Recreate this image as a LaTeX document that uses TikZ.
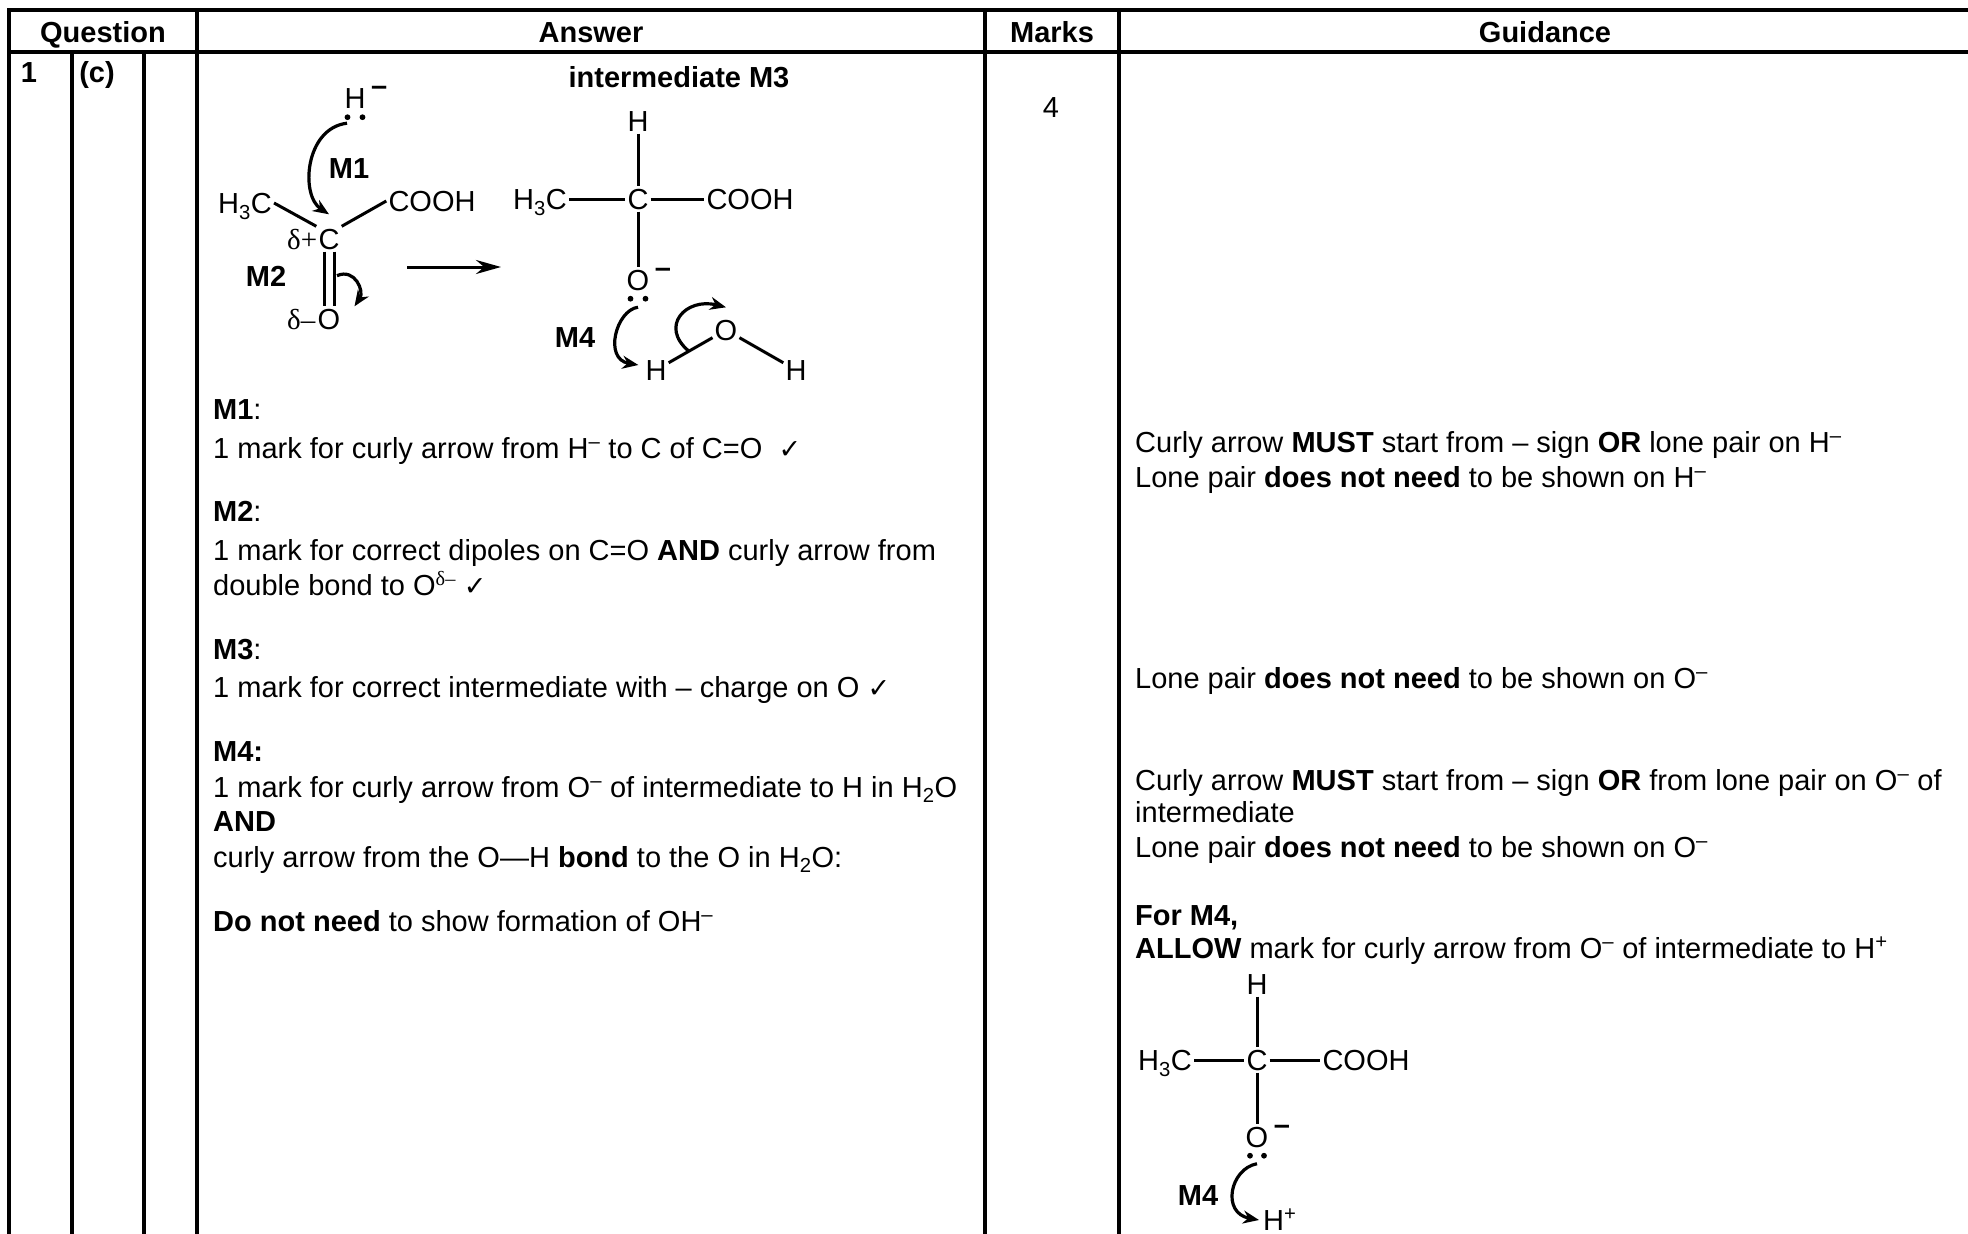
\documentclass[tikz,border=0pt]{standalone}
\usepackage{fontspec}
\setmainfont{Liberation Sans}
\newfontfamily\grkfont{Liberation Serif}
\newfontfamily\symfont{DejaVu Sans}
\usetikzlibrary{positioning,arrows.meta,calc}
\newcommand\cmark{{\symfont\fontsize{27}{30}\selectfont ✓}}

\begin{document}
\begin{tikzpicture}[x=1pt,y=-1pt,
   every node/.style={inner sep=0pt,font=\fontsize{29}{34}\selectfont},
   txt/.style={anchor=base west},
   head/.style={anchor=base,font=\fontsize{29}{34}\selectfont\bfseries},
   atom/.style={inner sep=2pt,text height=21pt,text depth=0pt},
   lbl/.style={font=\fontsize{29}{34}\selectfont\bfseries,text height=21pt,text depth=0pt},
   charge/.style={anchor=base,font=\fontsize{29}{34}\selectfont\bfseries},
   rule/.style={line width=3.2pt,line cap=rect},
   bond/.style={line width=3pt},
   curly/.style={line width=3.2pt,-{Stealth[length=16pt,width=13pt]}}]
\useasboundingbox (0,0) rectangle (1968,1234);
\draw[rule] (9,10) -- (1968,10) (9,52) -- (1968,52);
\foreach \x in {9,197,985,1119} \draw[rule] (\x,10) -- (\x,1236);
\foreach \x in {72,144} \draw[rule] (\x,52) -- (\x,1236);
\node[head] (qhead) at (103,42) {Question};
\node[head] (ahead) at (591,42) {Answer};
\node[head] (mhead) at (1052,42) {Marks};
\node[head] (ghead) at (1545,42) {Guidance};
\node[head] (qnum) at (29,82) {1};
\node[head] (qpart) at (97,82) {(c)};
\node[anchor=base] (marks) at (1051,117) {4};
\node[atom] (hyd) at (355,98) {H};
\node[charge] (hydq) at ([xshift=11.5pt,yshift=-10pt]hyd.north east) {–};
\fill ([xshift=-7.5pt,yshift=-6.5pt]hyd.south) circle (2.9pt) ([xshift=7.5pt,yshift=-6.5pt]hyd.south) circle (2.9pt);
\node[atom] (rc) at (329,239) {C};
\node[atom,left=-3pt of rc] (dplus) {\grkfont δ+};
\node[atom] (rh3c) at (245,203) {H\textsubscript{3}C};
\node[atom] (rcooh) at (432,201) {COOH};
\node[atom] (ro) at (329,319) {O};
\node[atom,left=-2pt of ro] (dminus) {\grkfont δ–};
\node[lbl] (m1) at (349,168) {M1};
\node[lbl] (m2) at (266,276) {M2};
\draw[bond] (rh3c.east) -- (rc.north west);
\draw[bond] (rc.north east) -- (rcooh.west);
\draw[bond] ([xshift=-5pt]rc.south) -- ([xshift=-5pt]ro.north);
\draw[bond] ([xshift=5pt]rc.south) -- ([xshift=5pt]ro.north);
\draw[curly] ([xshift=-8pt,yshift=-12.5pt]hyd.south) .. controls +(-42,5) and +(-29,-19) .. ([yshift=12pt]rc.north);
\draw[curly] ([xshift=8pt,yshift=-24pt]rc.south) .. controls +(18,-8) and +(10,-15) .. ([xshift=12pt]ro.north east);
\coordinate (rxa) at (407,267);
\coordinate (rxb) at (501,267);
\draw[line width=3pt,-{Stealth[length=25pt,width=14pt]}] (rxa) -- (rxb);
\node[anchor=base] (title) at (679,87) {\bfseries intermediate M3};
\node[atom] (ih) at (638,121) {H};
\node[atom] (ic) at (638,199) {C};
\node[atom] (ih3c) at (540,199) {H\textsubscript{3}C};
\node[atom] (icooh) at (750,199) {COOH};
\node[atom] (io) at (638,280) {O};
\node[charge] (ioq) at ([xshift=11.5pt,yshift=-10pt]io.north east) {–};
\fill ([xshift=-7.5pt,yshift=-6pt]io.south) circle (2.9pt) ([xshift=7.5pt,yshift=-6pt]io.south) circle (2.9pt);
\draw[bond] (ih) -- (ic) (ih3c) -- (ic) (ic) -- (icooh) (ic) -- (io);
\node[lbl] (m4) at (575,337) {M4};
\node[atom] (wh) at (656,370) {H};
\node[atom] (wo) at (726,330) {O};
\node[atom] (wh2) at (796,370) {H};
\draw[bond] (wh) -- (wo) -- (wh2);
\draw[curly] ([yshift=-14.5pt]io.south) .. controls +(-22,3) and +(-35,-6) .. ([xshift=-5pt,yshift=5pt]wh.west);
\draw[curly] ($(wh)!0.47!(wo)$) .. controls +(-30,-25) and +(-40,-10) .. ([yshift=10pt]wo.north);
\node[txt] (a1) at (213,419) {\textbf{M1}:};
\node[txt] (a2) at (213,458) {1 mark for curly arrow from H\textsuperscript{–} to C of C=O \ \cmark};
\node[txt] (a3) at (213,521) {\textbf{M2}:};
\node[txt] (a4) at (213,560) {1 mark for correct dipoles on C=O \textbf{AND} curly arrow from};
\node[txt] (a5) at (213,595) {double bond to O\textsuperscript{\grkfont δ–} \cmark};
\node[txt] (a6) at (213,659) {\textbf{M3}:};
\node[txt] (a7) at (213,697) {1 mark for correct intermediate with – charge on O \cmark};
\node[txt] (a8) at (213,761) {\textbf{M4:}};
\node[txt] (a9) at (213,797) {1 mark for curly arrow from O\textsuperscript{–} of intermediate to H in H\textsubscript{2}O};
\node[txt] (a10) at (213,831) {\textbf{AND}};
\node[txt] (a11) at (213,867) {curly arrow from the O—H \textbf{bond} to the O in H\textsubscript{2}O:};
\node[txt] (a12) at (213,931) {\textbf{Do not need} to show formation of OH\textsuperscript{–}};
\node[txt] (g1) at (1135,452) {Curly arrow \textbf{MUST} start from – sign \textbf{OR} lone pair on H\textsuperscript{–}};
\node[txt] (g2) at (1135,487) {Lone pair \textbf{does not need} to be shown on H\textsuperscript{–}};
\node[txt] (g3) at (1135,688) {Lone pair \textbf{does not need} to be shown on O\textsuperscript{–}};
\node[txt] (g4) at (1135,790) {Curly arrow \textbf{MUST} start from – sign \textbf{OR} from lone pair on O\textsuperscript{–} of};
\node[txt] (g5) at (1135,822) {intermediate};
\node[txt] (g6) at (1135,857) {Lone pair \textbf{does not need} to be shown on O\textsuperscript{–}};
\node[txt] (g7) at (1135,925) {\textbf{For M4,}};
\node[txt] (g8) at (1135,958) {\textbf{ALLOW} mark for curly arrow from O\textsuperscript{–} of intermediate to H\textsuperscript{+}};
\node[atom] (gh) at (1257,984) {H};
\node[atom] (gc) at (1257,1060) {C};
\node[atom] (gh3c) at (1165,1060) {H\textsubscript{3}C};
\node[atom] (gcooh) at (1366,1060) {COOH};
\node[atom] (go) at (1257,1137) {O};
\node[charge] (goq) at ([xshift=11.5pt,yshift=-10pt]go.north east) {–};
\fill ([xshift=-7pt,yshift=-6pt]go.south) circle (2.9pt) ([xshift=7pt,yshift=-6pt]go.south) circle (2.9pt);
\draw[bond] (gh) -- (gc) (gh3c) -- (gc) (gc) -- (gcooh) (gc) -- (go);
\node[lbl] (gm4) at (1198,1195) {M4};
\node[txt] (ghp) at (1263,1230) {H\textsuperscript{+}};
\draw[curly] ([yshift=-14pt]go.south) .. controls +(-27,5) and +(-38,-7) .. ([xshift=-4pt,yshift=10pt]ghp.base west);
\end{tikzpicture}
\end{document}
